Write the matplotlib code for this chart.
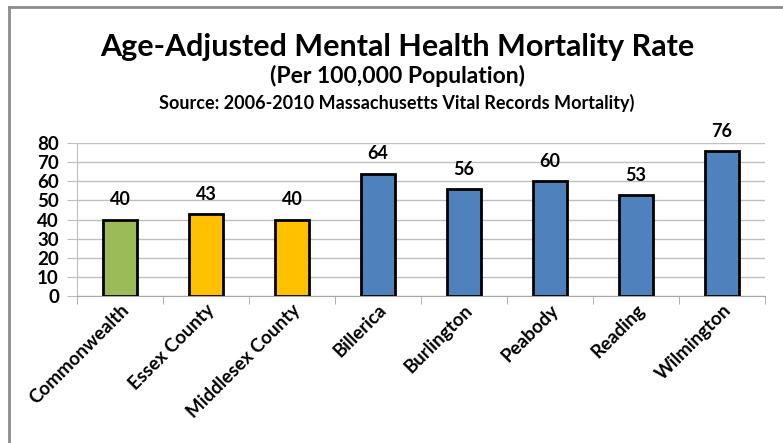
import numpy as np
import matplotlib
matplotlib.use("Agg")
import matplotlib.pyplot as plt
from matplotlib.lines import Line2D

# Daten
places = ["Commonwealth", "Essex County", "Middlesex County", "Billerica",
          "Burlington", "Peabody", "Reading", "Wilmington"]
rates = [40, 43, 40, 64, 56, 60, 53, 76]
bar_colors = ["#9BBB59", "#FFC000", "#FFC000", "#4F81BD",
              "#4F81BD", "#4F81BD", "#4F81BD", "#4F81BD"]
y_ticks = [0, 10, 20, 30, 40, 50, 60, 70, 80]

plt.rcParams['font.family'] = ['Lato', 'DejaVu Sans']

W, H = 783, 443
fig = plt.figure(figsize=(W / 100, H / 100), dpi=100)
ax = fig.add_axes([77 / W, 1 - 296 / H, (765 - 77) / W, (296 - 143) / H])

x = np.arange(len(places))
ax.bar(x, rates, width=0.4, color=bar_colors, edgecolor="black", linewidth=2, zorder=3)

for xi, v in zip(x, rates):
    ax.annotate(str(v), (xi, v), xytext=(0, 8), textcoords="offset points",
                ha="center", va="bottom", fontsize=13, fontweight="bold")

ax.set_xlim(-0.5, len(places) - 0.5)
ax.set_ylim(0, 80)
ax.set_yticks(y_ticks)
ax.set_yticklabels([str(t) for t in y_ticks], fontsize=13.5, fontweight="bold")
ax.tick_params(axis="y", length=7, color="#BFBFBF", pad=6)
ax.yaxis.grid(True, color="#BFBFBF", linewidth=1, zorder=0)

ax.set_xticks(x)
ax.set_xticklabels(places, rotation=45, ha="right", va="top", rotation_mode="anchor",
                   fontsize=13.5, fontweight="bold")
ax.tick_params(axis="x", which="major", length=0, pad=4)
ax.set_xticks(np.arange(len(places) + 1) - 0.5, minor=True)
ax.tick_params(axis="x", which="minor", length=6, color="#A6A6A6")

for s in ["top", "right"]:
    ax.spines[s].set_visible(False)
ax.spines["bottom"].set_color("#A6A6A6")
ax.spines["left"].set_color("#BFBFBF")

fig.text(397 / W, 1 - 56 / H, "Age-Adjusted Mental Health Mortality Rate",
         ha="center", va="baseline", fontsize=22, fontweight="bold")
fig.text(397 / W, 1 - 83 / H, "(Per 100,000 Population)",
         ha="center", va="baseline", fontsize=16.5, fontweight="bold")
fig.text(397 / W, 1 - 109 / H, "Source: 2006-2010 Massachusetts Vital Records Mortality)",
         ha="center", va="baseline", fontsize=13, fontweight="bold")

# Rahmen
fig.add_artist(Line2D([9 / W, 1], [1 - 7 / H, 1 - 7 / H], color="#8C8C8C", linewidth=2))
fig.add_artist(Line2D([9 / W, 9 / W], [0, 1 - 7 / H], color="#8C8C8C", linewidth=2))

fig.savefig("out.png", dpi=100)
